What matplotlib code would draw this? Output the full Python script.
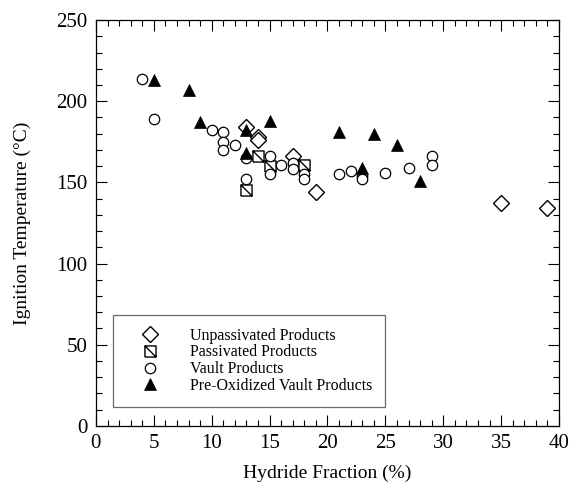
import numpy as np
import matplotlib
matplotlib.use("Agg")
import matplotlib.pyplot as plt
from matplotlib.path import Path
from matplotlib.ticker import MultipleLocator

# data
unpass_x = [13, 14, 14, 17, 19, 35, 39]
unpass_y = [184, 178, 176, 166, 144, 137, 134]

pass_x = [13, 14, 15, 18]
pass_y = [145, 166, 160, 161]

vault_x = [4, 5, 10, 11, 11, 11, 12, 13, 13, 15, 15, 16, 17, 17, 18, 18,
           21, 22, 23, 23, 25, 27, 29, 29]
vault_y = [214, 189, 182, 181, 175, 170, 173, 165, 152, 166, 155, 161, 162, 158, 155, 152,
           155, 157, 154, 152, 156, 159, 166, 161]

preox_x = [5, 8, 9, 13, 13, 15, 21, 23, 24, 26, 28]
preox_y = [213, 207, 187, 182, 168, 188, 181, 159, 180, 173, 151]

labels = ["Unpassivated Products", "Passivated Products",
          "Vault Products", "Pre-Oxidized Vault Products"]

# square with a diagonal from top-left to bottom-right
sq_verts = [(-1, -1), (1, -1), (1, 1), (-1, 1), (-1, -1), (-1, 1), (1, -1)]
sq_codes = [Path.MOVETO, Path.LINETO, Path.LINETO, Path.LINETO, Path.LINETO,
            Path.MOVETO, Path.LINETO]
box_diag = Path(sq_verts, sq_codes)

plt.rcParams['font.family'] = ['Liberation Serif', 'DejaVu Serif']

fig = plt.figure(figsize=(5.71, 4.90), dpi=100)
ax = fig.add_axes([0.168, 0.131, 0.811, 0.828])

ax.plot(unpass_x, unpass_y, ls='none', marker='D', ms=8.5, mfc='white',
        mec='black', mew=1.0, label=labels[0])
ax.plot(pass_x, pass_y, ls='none', marker=box_diag, ms=8, mfc='white',
        mec='black', mew=1.0, label=labels[1])
ax.plot(vault_x, vault_y, ls='none', marker='o', ms=7.5, mfc='white',
        mec='black', mew=0.9, label=labels[2])
ax.plot(preox_x, preox_y, ls='none', marker='^', ms=8.5, mfc='black',
        mec='black', mew=0.5, label=labels[3])

ax.set_xlim(0, 40)
ax.set_ylim(0, 250)
ax.xaxis.set_major_locator(MultipleLocator(5))
ax.xaxis.set_minor_locator(MultipleLocator(1))
ax.yaxis.set_major_locator(MultipleLocator(50))
ax.yaxis.set_minor_locator(MultipleLocator(10))
ax.tick_params(which='both', direction='in', top=True, right=True,
               labelsize=15, width=0.8)
ax.tick_params(which='major', length=8, pad=6)
ax.tick_params(which='minor', length=4)
for s in ax.spines.values():
    s.set_linewidth(0.9)

ax.set_xlabel("Hydride Fraction (%)", fontsize=14, labelpad=8)
ax.set_ylabel("Ignition Temperature (°C)", fontsize=14, labelpad=18)

leg = ax.legend(loc='lower left', bbox_to_anchor=(0.037, 0.047), fontsize=11.5,
                frameon=True, fancybox=False, borderpad=0.8,
                handletextpad=1.0, labelspacing=0.05, borderaxespad=0,
                handlelength=3.0)
leg.get_frame().set_edgecolor('#444444')
leg.get_frame().set_linewidth(0.9)

fig.savefig("out.png", dpi=100)
